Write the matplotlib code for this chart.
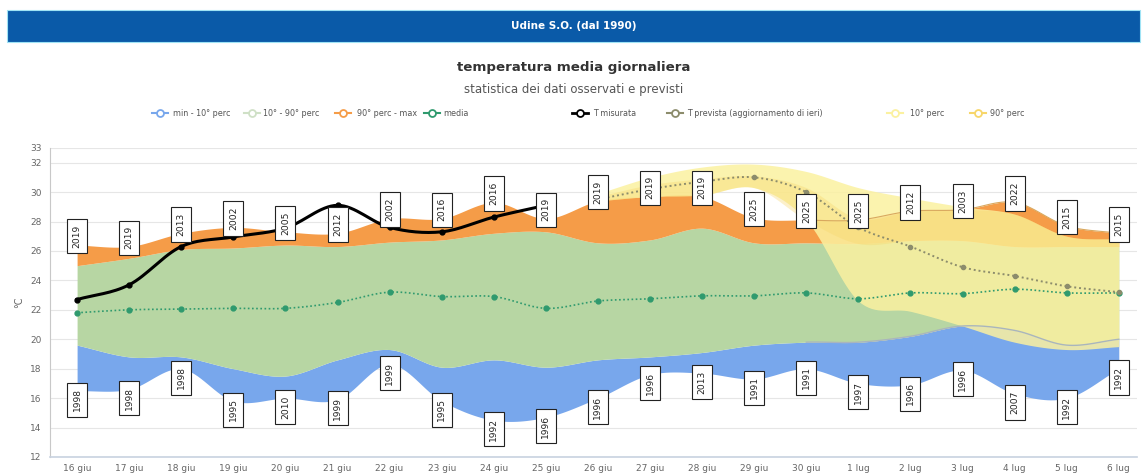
import numpy as np
import matplotlib
matplotlib.use('Agg')
import matplotlib.pyplot as plt
from matplotlib.lines import Line2D
from matplotlib.patches import Rectangle

# ── data ───────────────────────────────────────────────────
dates = ['16 giu', '17 giu', '18 giu', '19 giu', '20 giu', '21 giu', '22 giu',
         '23 giu', '24 giu', '25 giu', '26 giu', '27 giu', '28 giu', '29 giu',
         '30 giu', '1 lug', '2 lug', '3 lug', '4 lug', '5 lug', '6 lug']

t_min = [16.5, 16.6, 18.0, 15.8, 16.0, 15.9, 18.3, 15.8, 14.5, 14.7, 16.0,
         17.6, 17.7, 17.3, 18.0, 17.0, 16.9, 17.9, 16.3, 16.0, 18.0]
p10 = [19.6, 18.8, 18.8, 18.0, 17.5, 18.6, 19.3, 18.1, 18.6, 18.1, 18.6,
       18.8, 19.1, 19.6, 19.8, 19.8, 20.2, 20.9, 20.6, 19.6, 20.0]
p90 = [25.0, 25.5, 26.1, 26.2, 26.4, 26.3, 26.6, 26.75, 27.2, 27.3, 26.55,
       26.75, 27.55, 26.55, 26.55, 26.5, 26.7, 26.7, 26.3, 26.3, 26.3]
t_max = [26.4, 26.3, 27.2, 27.6, 27.3, 27.2, 28.2, 28.2, 29.3, 28.2, 29.4,
         29.7, 29.7, 28.25, 28.1, 28.1, 28.7, 28.8, 29.3, 27.7, 27.2]
media = [21.8, 22.0, 22.05, 22.1, 22.1, 22.5, 23.2, 22.9, 22.9, 22.1, 22.6,
         22.75, 22.95, 22.95, 23.15, 22.75, 23.15, 23.1, 23.4, 23.15, 23.15]

max_years = ['2019', '2019', '2013', '2002', '2005', '2012', '2002', '2016',
             '2016', '2019', '2019', '2019', '2019', '2025', '2025', '2025',
             '2012', '2003', '2022', '2015', '2015']
min_years = ['1998', '1998', '1998', '1995', '2010', '1999', '1999', '1995',
             '1992', '1996', '1996', '1996', '2013', '1991', '1991', '1997',
             '1996', '1996', '2007', '1992', '1992']

# observed (16-25 giu) and forecast (26 giu - 6 lug)
t_misurata = [22.7, 23.7, 26.3, 26.95, 27.55, 29.1, 27.6, 27.3, 28.3, 29.1]
t_prevista = [29.5, 30.2, 30.7, 31.0, 30.0, 27.6, 26.3, 24.9, 24.3, 23.6, 23.2]
prev10_lo = [29.4, 29.7, 29.8, 30.3, 28.1, 22.6, 21.9, 20.9, 19.8, 19.3, 19.5]
prev10_hi = [29.9, 31.0, 31.7, 31.9, 31.4, 30.3, 29.6, 29.0, 28.5, 27.0, 26.8]
prev90_lo = [29.4, 29.7, 29.8, 30.3, 28.1, 26.5, 26.7, 26.7, 26.3, 26.3, 26.3]
prev90_hi = [29.7, 30.5, 30.9, 31.1, 30.3, 28.2, 28.7, 28.8, 28.5, 27.0, 26.8]


def spline(x, y, n=16):
    # Catmull-Rom smoothing, like the highcharts spline look
    x = np.asarray(x, float)
    y = np.asarray(y, float)
    m = np.gradient(y, x)
    xs, ys = [], []
    for i in range(len(x) - 1):
        h = x[i + 1] - x[i]
        t = np.linspace(0, 1, n, endpoint=False)
        h00 = 2 * t**3 - 3 * t**2 + 1
        h10 = t**3 - 2 * t**2 + t
        h01 = -2 * t**3 + 3 * t**2
        h11 = t**3 - t**2
        xs.append(x[i] + t * h)
        ys.append(h00 * y[i] + h10 * h * m[i] + h01 * y[i + 1] + h11 * h * m[i + 1])
    xs.append([x[-1]])
    ys.append([y[-1]])
    return np.concatenate(xs), np.concatenate(ys)


idx = np.arange(len(dates))
idx_obs = idx[:len(t_misurata)]
idx_fc = idx[len(idx) - len(t_prevista):]

c_blue = '#78a7ec'
c_green = '#b7d6a3'
c_orange = '#f59c48'
c_pale = '#fbf1a0'
c_yel = '#f7d66a'
c_media = '#2f9a6e'
c_prev = '#8c8c6c'

fig = plt.figure(figsize=(11.47, 4.74), dpi=100)
ax = fig.add_axes([0.0436, 0.0359, 0.9477, 0.652])

# ── header + titles ────────────────────────────────────────
fig.add_artist(Rectangle((0.0061, 0.911), 0.988, 0.0675, transform=fig.transFigure,
                         facecolor='#0a5aa8', edgecolor='#9fe3f5', lw=0.8))
fig.text(0.5, 0.945, 'Udine S.O. (dal 1990)', color='white', fontsize=7.5,
         fontweight='bold', ha='center', va='center')
fig.text(0.5, 0.857, 'temperatura media giornaliera', color='#333333', fontsize=9.6,
         fontweight='bold', ha='center', va='center')
fig.text(0.5, 0.811, 'statistica dei dati osservati e previsti', color='#555555',
         fontsize=8.5, ha='center', va='center')

# ── climatology bands ──────────────────────────────────────
xs, lo = spline(idx, t_min)
_, a = spline(idx, p10)
_, b = spline(idx, p90)
_, hi = spline(idx, t_max)
ax.fill_between(xs, lo, a, color=c_blue, lw=0, zorder=2)
ax.fill_between(xs, a, b, color=c_green, lw=0, zorder=2)
ax.fill_between(xs, b, hi, color=c_orange, lw=0, zorder=2)

# ── forecast bands ─────────────────────────────────────────
xf, flo = spline(idx_fc, prev10_lo)
_, fhi = spline(idx_fc, prev10_hi)
ax.fill_between(xf, flo, fhi, color=c_pale, alpha=0.85, lw=0, zorder=3)
_, glo = spline(idx_fc, prev90_lo)
_, ghi = spline(idx_fc, prev90_hi)
ax.fill_between(xf, glo, ghi, color=c_yel, alpha=0.35, lw=0, zorder=3)
ax.plot(xs[xs >= 14], a[xs >= 14], color='#a9b5bd', lw=1, zorder=3.5)
ax.plot(xs[xs >= 14], hi[xs >= 14], color='#d9a85e', lw=0.8, zorder=3.5)

# ── lines ──────────────────────────────────────────────────
xm, ym = spline(idx, media)
ax.plot(xm, ym, color=c_media, lw=1.2, ls=(0, (1, 1.5)), zorder=5)
ax.plot(idx, media, 'o', color=c_media, ms=3.5, zorder=5)

xp, yp = spline(idx_fc, t_prevista)
ax.plot(xp, yp, color=c_prev, lw=1.4, ls=(0, (1, 1.5)), zorder=5)
ax.plot(idx_fc, t_prevista, 'o', color=c_prev, ms=3, zorder=5)

xo, yo = spline(idx_obs, t_misurata)
ax.plot(xo, yo, color='black', lw=2.2, zorder=6)
ax.plot(idx_obs, t_misurata, 'o', color='black', ms=3.5, zorder=6)

# ── year labels ────────────────────────────────────────────
box = dict(boxstyle='square,pad=0.6', facecolor='white', edgecolor='#222222', lw=0.8)
for i in idx:
    ax.text(i, t_max[i] + 0.6, max_years[i], rotation=90, ha='center', va='center',
            fontsize=6.6, color='#222222', bbox=box, zorder=7)
    ax.text(i, t_min[i] - 0.6, min_years[i], rotation=90, ha='center', va='center',
            fontsize=6.6, color='#222222', bbox=box, zorder=7)

# ── axes ───────────────────────────────────────────────────
ax.set_xlim(-0.52, 20.35)
ax.set_ylim(12, 33)
ax.set_yticks(list(range(12, 33, 2)) + [33])
ax.set_xticks(idx)
ax.set_xticklabels(dates)
ax.grid(axis='y', color='#e6e6e6', lw=0.8, zorder=0)
ax.set_axisbelow(True)
ax.tick_params(axis='both', length=0, labelsize=6.5, colors='#666666', pad=6)
ax.tick_params(axis='x', pad=5)
for s in ['top', 'right']:
    ax.spines[s].set_visible(False)
ax.spines['left'].set_color('#c8c8c8')
ax.spines['bottom'].set_color('#c8d2e0')
ax.spines['bottom'].set_linewidth(1.2)
ax.set_ylabel('°C', fontsize=7, color='#666666', labelpad=4)

# ── legend (manual, one row) ───────────────────────────────
leg = [('min - 10° perc', c_blue, 160, 173),
       ('10° - 90° perc', '#cfe0c6', 252, 263),
       ('90° perc - max', c_orange, 343, 357),
       ('media', c_media, 432, 443),
       ('T misurata', 'black', 580, 593),
       ('T prevista (aggiornamento di ieri)', c_prev, 675, 687),
       ('10° perc', c_pale, 895, 910),
       ('90° perc', c_yel, 978, 990)]
yl = 1 - 113 / 474
for name, col, xc, xt in leg:
    lw = 2 if col == 'black' else 1.5
    fig.add_artist(Line2D([(xc - 8) / 1147, (xc + 8) / 1147], [yl, yl],
                          transform=fig.transFigure, color=col, lw=lw))
    fig.add_artist(Line2D([xc / 1147], [yl], transform=fig.transFigure, marker='o',
                          ms=5, mfc='white', mec=col, mew=1.3))
    fig.text(xt / 1147, yl, name, fontsize=5.8, color='#555555', ha='left', va='center')

fig.savefig('out.png', dpi=100)
